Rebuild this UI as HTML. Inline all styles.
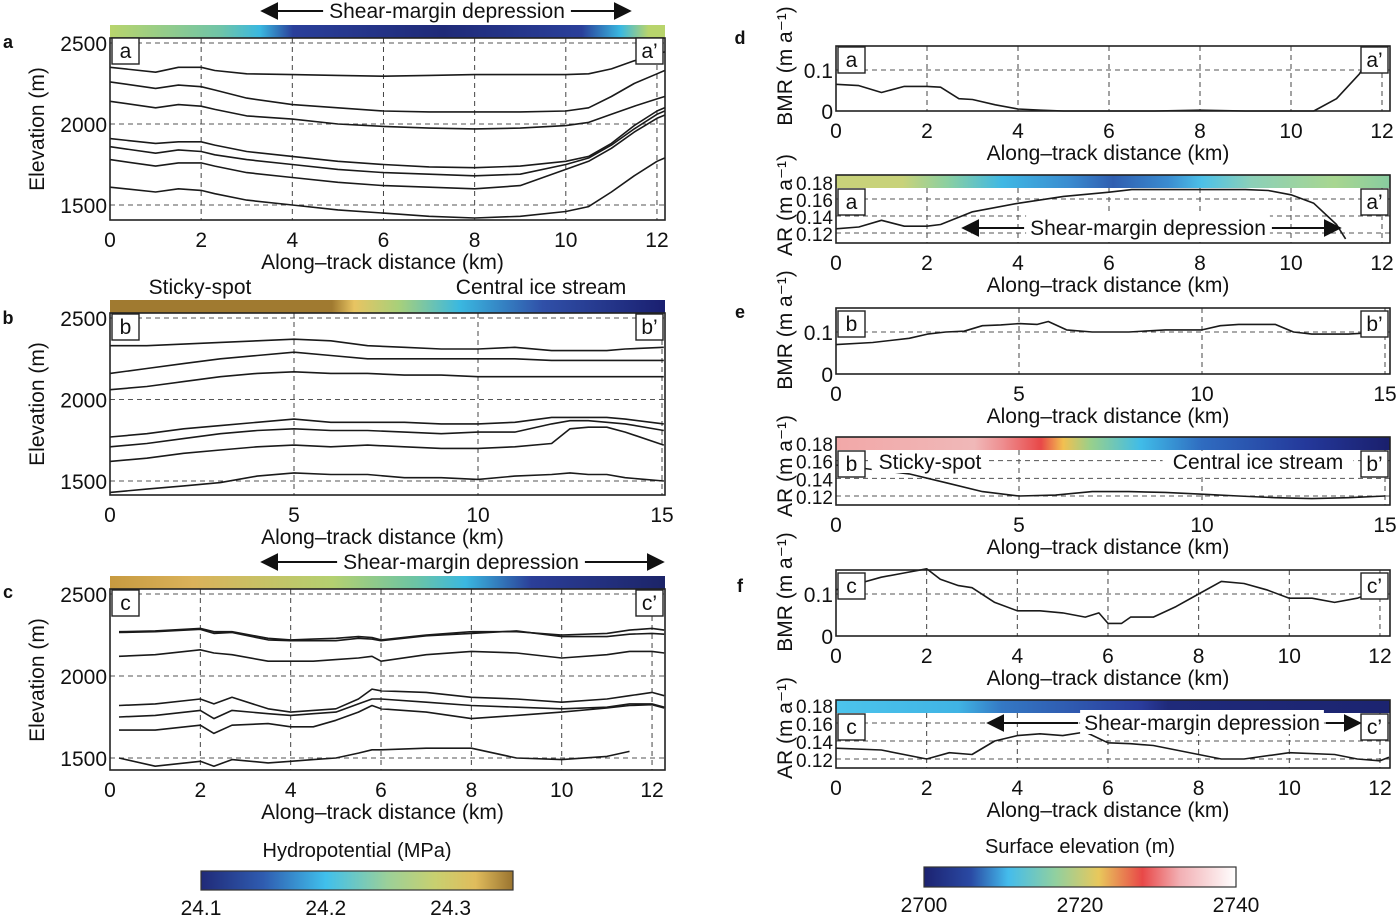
<!DOCTYPE html>
<html><head><meta charset="utf-8"><style>
body{margin:0;background:#fff}
svg{display:block;font-family:"Liberation Sans",sans-serif}
</style></head><body>
<svg id="fig" width="1400" height="916" viewBox="0 0 1400 916" xmlns="http://www.w3.org/2000/svg">
<defs>
<linearGradient id="gA" x1="0" x2="1"><stop offset="0" stop-color="#b8d46c"/><stop offset="0.2" stop-color="#6fc4a8"/><stop offset="0.27" stop-color="#3ab8e0"/><stop offset="0.33" stop-color="#2a3f9a"/><stop offset="0.6" stop-color="#1f2a78"/><stop offset="0.85" stop-color="#2a3f9a"/><stop offset="0.92" stop-color="#3ab8e0"/><stop offset="0.97" stop-color="#b8d46c"/><stop offset="1" stop-color="#b8d46c"/></linearGradient>
<linearGradient id="gB" x1="0" x2="1"><stop offset="0" stop-color="#a07a30"/><stop offset="0.4" stop-color="#a07a30"/><stop offset="0.44" stop-color="#e8c462"/><stop offset="0.52" stop-color="#a8d07a"/><stop offset="0.63" stop-color="#3ab8e0"/><stop offset="0.78" stop-color="#3050a8"/><stop offset="1" stop-color="#1a1f70"/></linearGradient>
<linearGradient id="gC" x1="0" x2="1"><stop offset="0" stop-color="#c79a40"/><stop offset="0.15" stop-color="#dab25a"/><stop offset="0.4" stop-color="#b4d070"/><stop offset="0.55" stop-color="#6cc4a4"/><stop offset="0.64" stop-color="#3ab8e0"/><stop offset="0.76" stop-color="#2b3e98"/><stop offset="1" stop-color="#1c2468"/></linearGradient>
<linearGradient id="gD" x1="0" x2="1"><stop offset="0" stop-color="#c8d27a"/><stop offset="0.12" stop-color="#c8d27a"/><stop offset="0.2" stop-color="#8cd0a0"/><stop offset="0.3" stop-color="#40b8e4"/><stop offset="0.42" stop-color="#3a8cd0"/><stop offset="0.5" stop-color="#2f5eb0"/><stop offset="0.6" stop-color="#3a8cd0"/><stop offset="0.66" stop-color="#4cc0e8"/><stop offset="0.75" stop-color="#8cd0b8"/><stop offset="0.9" stop-color="#a8d690"/><stop offset="1" stop-color="#88cca0"/></linearGradient>
<linearGradient id="gE" x1="0" x2="1"><stop offset="0" stop-color="#f2a8a8"/><stop offset="0.25" stop-color="#f0b8b8"/><stop offset="0.3" stop-color="#ee8e90"/><stop offset="0.37" stop-color="#e84848"/><stop offset="0.41" stop-color="#f2c050"/><stop offset="0.46" stop-color="#98d08c"/><stop offset="0.55" stop-color="#40bce8"/><stop offset="0.66" stop-color="#2f6cc0"/><stop offset="0.85" stop-color="#24389a"/><stop offset="1" stop-color="#1a1f6c"/></linearGradient>
<linearGradient id="gF" x1="0" x2="1"><stop offset="0" stop-color="#4cc4ec"/><stop offset="0.22" stop-color="#40b4e4"/><stop offset="0.3" stop-color="#3478c4"/><stop offset="0.55" stop-color="#2a3c9c"/><stop offset="0.6" stop-color="#1f2a7a"/><stop offset="1" stop-color="#1c2470"/></linearGradient>
<linearGradient id="gH" x1="0" x2="1"><stop offset="0" stop-color="#202a78"/><stop offset="0.2" stop-color="#2f5cb0"/><stop offset="0.4" stop-color="#40c0ec"/><stop offset="0.6" stop-color="#9cd098"/><stop offset="0.75" stop-color="#c8d070"/><stop offset="0.88" stop-color="#e0bc5c"/><stop offset="1" stop-color="#9a7430"/></linearGradient>
<linearGradient id="gS" x1="0" x2="1"><stop offset="0" stop-color="#1c2270"/><stop offset="0.15" stop-color="#2a4aa4"/><stop offset="0.27" stop-color="#44bcec"/><stop offset="0.42" stop-color="#90d0a0"/><stop offset="0.56" stop-color="#e8c85c"/><stop offset="0.7" stop-color="#e84848"/><stop offset="0.82" stop-color="#f2b0b4"/><stop offset="1" stop-color="#ffffff"/></linearGradient>
<marker id="arr" viewBox="0 0 10 10" refX="9" refY="5" markerWidth="9" markerHeight="9" orient="auto-start-reverse"><path d="M0,0 L10,5 L0,10 z" fill="#111"/></marker>
</defs>
<g id="root"></g>
</svg>
<script>
// ---------- Data ----------
const xA = [0,1,1.5,2,2.3,3,4,5,6,7,8,9,10,10.5,11,11.5,12,12.17];
const aL1 = [2350,2320,2350,2350,2330,2310,2305,2300,2295,2300,2305,2305,2305,2310,2340,2390,2430,2445];
const aL2 = [2260,2220,2240,2230,2210,2160,2120,2100,2080,2075,2075,2075,2080,2100,2170,2250,2310,2330];
const aL3 = [2140,2100,2120,2110,2090,2050,2030,2000,1985,1975,1970,1975,1990,2010,2060,2110,2155,2170];
const aL4 = [1910,1880,1890,1890,1870,1830,1800,1770,1750,1735,1730,1740,1770,1800,1880,1990,2080,2100];
const aL5 = [1860,1820,1840,1830,1810,1780,1750,1720,1700,1690,1680,1690,1750,1790,1870,1970,2060,2080];
const aL6 = [1780,1740,1760,1760,1740,1700,1670,1640,1620,1610,1600,1620,1720,1770,1850,1950,2035,2055];
const aL7 = [1610,1580,1600,1590,1570,1530,1500,1470,1450,1430,1420,1430,1460,1490,1580,1680,1770,1790];

const xB = [0,1,2,3,4,5,6,7,8,9,10,11,12,12.5,13,13.5,14,15.05];
const bL1 = [2330,2330,2340,2350,2360,2370,2360,2330,2320,2310,2310,2320,2300,2300,2300,2300,2310,2320];
const bL2 = [2160,2190,2220,2250,2270,2290,2270,2250,2250,2250,2250,2250,2240,2240,2240,2240,2240,2240];
const bL3 = [2060,2080,2110,2140,2160,2170,2160,2160,2150,2150,2140,2140,2140,2140,2140,2140,2140,2140];
const bL4 = [1770,1790,1820,1840,1860,1880,1860,1860,1860,1850,1850,1860,1890,1890,1890,1890,1880,1850];
const bL5 = [1710,1730,1760,1790,1810,1820,1810,1810,1800,1790,1800,1800,1850,1870,1870,1860,1850,1810];
const bL6 = [1620,1640,1670,1690,1710,1720,1710,1720,1710,1700,1700,1710,1730,1820,1830,1830,1800,1720];
const bL7 = [1430,1450,1470,1490,1530,1550,1540,1540,1520,1520,1510,1530,1540,1550,1540,1540,1520,1500];

const xC = [0.2,1,2,2.3,2.7,3.5,4,4.5,5,5.5,5.8,6,7,8,9,10,11,11.5,12,12.27];
const cL1 = [2270,2275,2290,2270,2270,2230,2220,2225,2230,2240,2235,2220,2250,2270,2270,2250,2260,2280,2290,2280];
const cL2 = [2265,2270,2285,2260,2265,2220,2215,2215,2215,2230,2225,2215,2245,2260,2275,2240,2240,2255,2260,2255];
const cL3 = [2120,2130,2160,2140,2130,2090,2090,2090,2100,2110,2120,2090,2130,2150,2140,2110,2130,2150,2150,2140];
const cL4 = [1820,1830,1860,1830,1870,1800,1780,1790,1800,1860,1920,1910,1900,1870,1860,1840,1860,1880,1900,1880];
const cL5 = [1750,1760,1790,1740,1790,1770,1760,1770,1780,1830,1860,1860,1840,1820,1810,1800,1810,1830,1830,1810];
const cL6 = [1670,1670,1700,1650,1700,1710,1690,1690,1730,1780,1820,1800,1780,1740,1760,1780,1805,1820,1825,1805];
const cL7 = [1500,1450,1480,1450,1490,1470,1480,1490,1500,1530,1550,1550,1560,1560,1500,1490,1510,1540,null,null];

const xDb = [0,0.5,1,1.5,2,2.3,2.7,3,3.5,4,4.5,5,6,7,8,9,10,10.5,11,11.5,11.7];
const dBMR = [0.065,0.062,0.045,0.06,0.06,0.058,0.03,0.028,0.015,0.005,0.002,0,0,0,0.002,0,0,0,0.03,0.09,0.128];
const xDa = [0,0.5,1,1.5,2,2.3,3,4,5,6,6.5,7,8,9,9.5,10,10.5,11,11.2];
const dAR = [0.125,0.127,0.135,0.128,0.128,0.13,0.145,0.155,0.163,0.168,0.171,0.171,0.171,0.171,0.17,0.165,0.155,0.13,0.113];

const xEb = [0,1,2,2.5,3,3.5,4,4.5,5,5.5,5.8,6.3,7,8,9,10,10.5,11,11.5,12,12.5,13,14,15];
const eBMR = [0.07,0.075,0.085,0.095,0.1,0.102,0.115,0.117,0.12,0.118,0.125,0.105,0.1,0.1,0.105,0.105,0.115,0.118,0.118,0.118,0.1,0.095,0.095,0.1];
const xEa = [0,1,2,3,4,5,6,7,8,9,10,11,12,13,14,15];
const eAR = [0.155,0.15,0.145,0.135,0.125,0.12,0.121,0.125,0.125,0.124,0.122,0.12,0.118,0.117,0.118,0.12];

const xFb = [0,0.5,1,1.5,2,2.3,2.7,3,3.5,4,4.5,5,5.5,5.8,6,6.3,6.5,7,7.5,8,8.5,9,9.5,10,10.5,11,11.5,12];
const fBMR = [0.11,0.125,0.14,0.15,0.16,0.135,0.12,0.115,0.08,0.06,0.06,0.055,0.045,0.055,0.03,0.03,0.045,0.045,0.07,0.1,0.13,0.125,0.11,0.09,0.09,0.08,0.09,0.11];
const xFa = [0,1,2,2.5,3,3.5,4,4.5,5,5.5,6,6.5,7,7.5,8,8.5,9,10,11,11.5,12,12.2];
const fAR = [0.132,0.13,0.12,0.127,0.125,0.14,0.146,0.148,0.146,0.15,0.138,0.137,0.135,0.13,0.125,0.12,0.12,0.127,0.125,0.12,0.118,0.122];

const elevTicks = [1500,2000,2500];
const xTicks12 = [0,2,4,6,8,10,12];
const xTicks15 = [0,5,10,15];
const bmrTicks = [0,0.1];
const arTicks = [0.12,0.14,0.16,0.18];
const hydroTicks = ['24.1','24.2','24.3'];
const surfTicks = ['2700','2720','2740'];

// ---------- Drawing ----------
const NS = 'http://www.w3.org/2000/svg';
const root = document.getElementById('root');
function mk(tag, attrs, parent){
  const e = document.createElementNS(NS, tag);
  for (const k in attrs) e.setAttribute(k, attrs[k]);
  (parent||root).appendChild(e); return e;
}
function txt(s, x, y, size, anchor, parent){
  const t = mk('text', {x:x, y:y, 'font-size':size, 'text-anchor':anchor||'middle', fill:'#111'}, parent);
  t.textContent = s; return t;
}

function panel(p){
  const g = mk('g', {});
  
  
  const sx = v => p.x0 + (v - p.xmin) * p.kx;
  const sy = v => p.yv0 + (p.v0 - v) * p.ky;
  const right = p.right, top = p.top, bot = p.bot;
  if (p.strip){
    const s = mk('rect', {x:p.x0, y:p.strip, width:right-p.x0, height:13, fill:'url(#'+p.grad+')'}, g);
    
    
  }
  p.xt.forEach(t => {
    if (t === p.xmin) return;
    const gl = mk('line', {x1:sx(t), x2:sx(t), y1:(p.strip? p.strip+13 : top), y2:bot, stroke:'#444', 'stroke-width':1, 'stroke-dasharray':'5,4'}, g);
    
    
  });
  p.yt.forEach(t => {
    const y = sy(t);
    if (y >= bot - 1 || (p.strip && y < p.strip + 13)) return;
    const gl = mk('line', {x1:p.x0, x2:right, y1:y, y2:y, stroke:'#555', 'stroke-width':1, 'stroke-dasharray':'5,4'}, g);
    
    
  });
  p.series.forEach((vals, i) => {
    let d = '';
    vals.forEach((v, j) => {
      if (v === null) return;
      d += (d ? 'L' : 'M') + sx(p.xs[j]).toFixed(1) + ',' + sy(v).toFixed(1);
    });
    const path = mk('path', {d:d, fill:'none', stroke:'#1a1a1a', 'stroke-width':1.6, 'stroke-linejoin':'round'}, g);
    
    
  });
  const fr = mk('rect', {x:p.x0, y:top, width:right-p.x0, height:bot-top, fill:'none', stroke:'#222', 'stroke-width':1.6}, g);
  
  
  p.xt.forEach(t => {
    const l = txt(String(t), sx(t), bot + 27, 21, 'middle', g);
    
    
  });
  p.yt.forEach(t => {
    const l = txt(String(t), p.x0 - 3, sy(t) + 8, p.ysize || 21, 'end', g);
    
    
  });
  const xl = txt('Along\u2013track distance (km)', (p.x0 + right)/2 - 5, bot + 49, 21, 'middle', g);
  
  
  const yl = txt(p.ylab, 0, 0, p.ylabSize || 21, 'middle', g);
  yl.setAttribute('transform', 'translate(' + p.ylx + ',' + p.yly + ') rotate(-90)');
  
  
  [[p.x0+2, p.lab1],[right-29, p.lab2]].forEach(([bx, s]) => {
    const bg = mk('g', {}, g);
    
    
    mk('rect', {x:bx, y:p.boxY, width:27, height:26, fill:'#fff', stroke:'#222', 'stroke-width':1.4}, bg);
    txt(s, bx + 13.5, p.boxY + 20, 21, 'middle', bg);
  });
}

const BMRlab = 'BMR (m a\u207B\u00B9)', ARlab = 'AR (m a\u207B\u00B9)';
panel({name:'panel-a', x0:110, xmin:0, kx:45.58, right:665, top:38, bot:220, yv0:43, v0:2500, ky:81/500, strip:25, grad:'gA',
  xs:xA, series:[aL1,aL2,aL3,aL4,aL5,aL6,aL7], lineName:'layer', xt:xTicks12, yt:elevTicks,
  ylab:'Elevation (m)', ylx:44, yly:129, lab1:'a', lab2:'a\u2019', boxY:38});
panel({name:'panel-b', x0:110, xmin:0, kx:36.8, right:665, top:313, bot:495, yv0:318, v0:2500, ky:0.163, strip:300, grad:'gB',
  xs:xB, series:[bL1,bL2,bL3,bL4,bL5,bL6,bL7], lineName:'layer', xt:xTicks15, yt:elevTicks,
  ylab:'Elevation (m)', ylx:44, yly:404, lab1:'b', lab2:'b\u2019', boxY:314});
panel({name:'panel-c', x0:110, xmin:0, kx:45.17, right:665, top:589, bot:770, yv0:594, v0:2500, ky:0.164, strip:576, grad:'gC',
  xs:xC, series:[cL1,cL2,cL3,cL4,cL5,cL6,cL7], lineName:'layer', xt:xTicks12, yt:elevTicks,
  ylab:'Elevation (m)', ylx:44, yly:680, lab1:'c', lab2:'c\u2019', boxY:590});

panel({name:'panel-d-bmr', x0:836, xmin:0, kx:45.5, right:1390, top:46, bot:111, yv0:111, v0:0, ky:410,
  xs:xDb, series:[dBMR], lineName:'bmr-line', xt:xTicks12, yt:bmrTicks,
  ylab:BMRlab, ylx:792, yly:66, lab1:'a', lab2:'a\u2019', boxY:47});
panel({name:'panel-d-ar', x0:836, xmin:0, kx:45.5, right:1390, top:175, bot:243, yv0:182, v0:0.18, ky:850, strip:175, grad:'gD',
  xs:xDa, series:[dAR], lineName:'ar-line', xt:xTicks12, yt:arTicks, ysize:19,
  ylab:ARlab, ylx:792, yly:205, lab1:'a', lab2:'a\u2019', boxY:189});
panel({name:'panel-e-bmr', x0:836, xmin:0, kx:36.6, right:1390, top:308, bot:374, yv0:374, v0:0, ky:420,
  xs:xEb, series:[eBMR], lineName:'bmr-line', xt:xTicks15, yt:bmrTicks,
  ylab:BMRlab, ylx:792, yly:330, lab1:'b', lab2:'b\u2019', boxY:311});
panel({name:'panel-e-ar', x0:836, xmin:0, kx:36.6, right:1390, top:437, bot:505, yv0:443, v0:0.18, ky:883, strip:437, grad:'gE',
  xs:xEa, series:[eAR], lineName:'ar-line', xt:xTicks15, yt:arTicks, ysize:19,
  ylab:ARlab, ylx:792, yly:466, lab1:'b', lab2:'b\u2019', boxY:451});
panel({name:'panel-f-bmr', x0:836, xmin:0, kx:45.33, right:1390, top:570, bot:636, yv0:636, v0:0, ky:420,
  xs:xFb, series:[fBMR], lineName:'bmr-line', xt:xTicks12, yt:bmrTicks,
  ylab:BMRlab, ylx:792, yly:592, lab1:'c', lab2:'c\u2019', boxY:573});
panel({name:'panel-f-ar', x0:836, xmin:0, kx:45.33, right:1390, top:700, bot:768, yv0:705, v0:0.18, ky:900, strip:700, grad:'gF',
  xs:xFa, series:[fAR], lineName:'ar-line', xt:xTicks12, yt:arTicks, ysize:19,
  ylab:ARlab, ylx:792, yly:728, lab1:'c', lab2:'c\u2019', boxY:714});

// annotations
function arrowNote(x1, x2, y, label, tx, name){
  const g = mk('g', {});
  
  
  const bg = mk('rect', {x:0, y:y - 13, width:0, height:24, fill:'#fff'}, g);
  const t = txt(label, tx, y + 7, 21, 'middle', g);
  let w = label.length * 10.6;
  try { const L = t.getComputedTextLength(); if (L > 0) w = L; } catch(e) {}
  bg.setAttribute('x', tx - w/2 - 4);
  bg.setAttribute('width', w + 8);
  mk('line', {x1:tx - w/2 - 6, x2:x1, y1:y, y2:y, stroke:'#111', 'stroke-width':2, 'marker-end':'url(#arr)'}, g);
  mk('line', {x1:tx + w/2 + 6, x2:x2, y1:y, y2:y, stroke:'#111', 'stroke-width':2, 'marker-end':'url(#arr)'}, g);
}
arrowNote(262, 630, 11, 'Shear-margin depression', 447, 'shear-margin-annotation-a');
arrowNote(262, 663, 562, 'Shear-margin depression', 461, 'shear-margin-annotation-c');
arrowNote(963, 1340, 228, 'Shear-margin depression', 1148, 'shear-margin-annotation-d');
arrowNote(988, 1360, 723, 'Shear-margin depression', 1202, 'shear-margin-annotation-f');

[['Sticky-spot',200,294,'sticky-spot-label-b'],['Central ice stream',541,294,'central-stream-label-b'],
 ['Sticky-spot',930,469,'sticky-spot-label-e'],['Central ice stream',1258,469,'central-stream-label-e']].forEach(a => {
  mk('rect', {x:a[1] - a[0].length*5.3, y:a[2]-18, width:a[0].length*10.6, height:22, fill:'#fff'});
  const t = txt(a[0], a[1], a[2], 21, 'middle');
  
  
});

[['a',8,48],['b',8,324],['c',8,598],['d',740,44],['e',740,318],['f',740,592]].forEach(l => {
  const t = txt(l[0], l[1], l[2], 18, 'middle');
  t.setAttribute('font-weight', 'bold');
  
  
});

function colorbar(x, y, w, h, grad, title, ticks, step, name){
  const g = mk('g', {});
  
  
  mk('rect', {x:x, y:y, width:w, height:h, fill:'url(#'+grad+')', stroke:'#333', 'stroke-width':1.2}, g);
  txt(title, x + w/2, y - 14, 20, 'middle', g);
  ticks.forEach((t, i) => {
    const l = txt(t, x + i * (w * step), y + h + 25, 21, 'middle', g);
    
    
  });
}
colorbar(201, 871, 312, 19, 'gH', 'Hydropotential (MPa)', hydroTicks, 0.4, 'hydropotential-colorbar');
colorbar(924, 867, 312, 20, 'gS', 'Surface elevation (m)', surfTicks, 0.5, 'surface-elevation-colorbar');
</script>
</body></html>
